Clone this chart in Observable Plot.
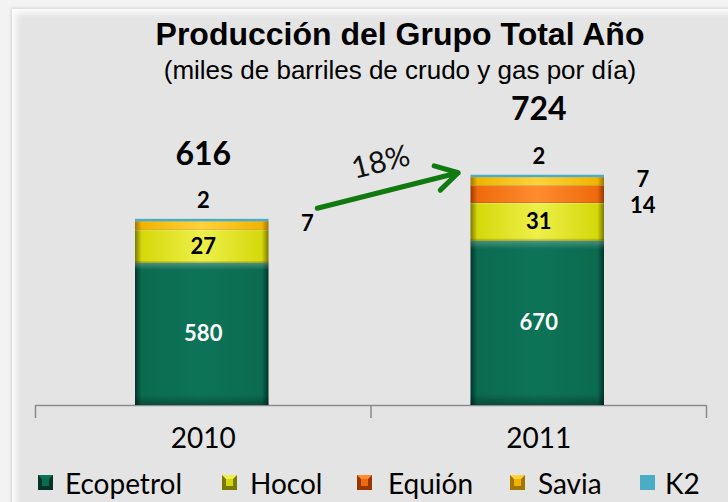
<!DOCTYPE html>
<html>
<head>
<meta charset="utf-8">
<script src="https://cdn.jsdelivr.net/npm/d3@7"></script>
<script src="https://cdn.jsdelivr.net/npm/@observablehq/plot@0.6"></script>
<style>
  html, body { margin: 0; padding: 0; background: #f3f3f3; }
  #wrap { position: relative; width: 728px; height: 502px; overflow: hidden; }
  #panel { position: absolute; left: 12px; top: 9px; width: 730px; height: 500px; background: #e4e4e4;
           box-shadow: inset 4px 4px 7px rgba(255,255,255,0.95), -1px -1px 3px rgba(0,0,0,0.13); }
  #chart { position: absolute; left: 0; top: 0; }
  .ttl { position: absolute; left: 0; width: 800px; text-align: center; white-space: nowrap;
         font-family: "Liberation Sans", Arial, sans-serif; color: #000; z-index: 2; }
  #title { top: 18px; font-size: 32px; line-height: 32px; font-weight: bold; }
  #subtitle { top: 57px; font-size: 26px; line-height: 26px; }
  .leg { position: absolute; top: 466px; height: 34px; display: flex; align-items: center;
         font-family: Lato, "Open Sans", sans-serif; font-size: 28px; color: #000; z-index: 2; }
  .sw { position: absolute; top: 475px; width: 15px; height: 15px; box-sizing: border-box; border: 4px solid; z-index: 2; }
</style>
</head>
<body>
<div id="wrap">
  <div id="panel"></div>
  <div id="chart"></div>
  <div class="ttl" id="title"></div>
  <div class="ttl" id="subtitle"></div>
</div>
<script>
// ---------- data ----------
const chartTitle = "Producción del Grupo Total Año";
const chartSubtitle = "(miles de barriles de crudo y gas por día)";
const years = ["2010", "2011"];
const seriesNames = ["Ecopetrol", "Hocol", "Equión", "Savia", "K2"];
const ecopetrol = [580, 670];
const hocol = [27, 31];
const equion = [0, 14];
const savia = [7, 7];
const k2 = [2, 2];
const seriesValues = [ecopetrol, hocol, equion, savia, k2];

// The source chart draws the Ecopetrol segment at one fifth of the scale used
// for the smaller companies (labels still show the real values).
const ECOPETROL_DRAW_FACTOR = 1 / 5;

// ---------- styles ----------
const palette = {
  Ecopetrol: {base: "#0b6b4f", dark: "#02342a", light: "#0d7357"},
  Hocol:     {base: "#d5d80a", dark: "#7a7a00", light: "#eef04a"},
  "Equión":  {base: "#ef6a0c", dark: "#983800", light: "#ff8c2e"},
  Savia:     {base: "#f0b400", dark: "#a27400", light: "#ffd23a"},
  K2:        {base: "#4bacc6", dark: "#4bacc6", light: "#4bacc6"}
};

// ---------- derived table ----------
const rows = years.flatMap((year, i) => seriesNames.map((s, j) => ({
  year, xi: i, series: s, value: seriesValues[j][i],
  display: s === "Ecopetrol" ? seriesValues[j][i] * ECOPETROL_DRAW_FACTOR : seriesValues[j][i]
})));
const totals = years.map((y, i) => d3.sum(seriesValues, v => v[i]));
const displayTops = years.map((y, i) => d3.sum(rows.filter(r => r.xi === i), r => r.display));
const growth = Math.round((totals[1] / totals[0] - 1) * 100) + "%";

document.getElementById("title").textContent = chartTitle;
document.getElementById("subtitle").textContent = chartSubtitle;

const stackOpts = {z: "series", order: seriesNames};
const arrowData = [{x1: 0.84, y1: displayTops[0] + 9, x2: 1.26, y2: displayTops[1] + 2}];

const chart = Plot.plot({
  width: 728,
  height: 502,
  marginLeft: 35,
  marginRight: 22,
  marginTop: 160,
  marginBottom: 97,
  x: {type: "linear", domain: [0, years.length]},
  y: {domain: [0, 200], axis: null},
  color: {type: "ordinal", domain: seriesNames, range: seriesNames.map((s, i) => `url(#grad${i})`)},
  style: {background: "transparent", fontFamily: "Lato, sans-serif", overflow: "visible"},
  marks: [
    Plot.ruleY([0], {stroke: "#8a8a8a", strokeWidth: 1.5}),
    Plot.axisX({ticks: d3.range(years.length + 1), tickSize: 13, tickFormat: () => "", stroke: "#8a8a8a", strokeWidth: 1.5}),
    Plot.text(years, {x: (d, i) => i + 0.5, y: 0, dy: 34, text: d => d, fontSize: 28, fill: "#000", fontFamily: "Lato"}),
    Plot.rectY(rows, {x1: d => d.xi, x2: d => d.xi + 1, y: "display", ...stackOpts, fill: "series", insetLeft: 100, insetRight: 102}),
    Plot.rectY(rows, {x1: d => d.xi, x2: d => d.xi + 1, y: "display", ...stackOpts, fill: "url(#vshade)", insetLeft: 100, insetRight: 102}),
    // values inside segments
    Plot.text(rows, Plot.stackY({x: d => d.xi + 0.5, y: "display", ...stackOpts,
      text: d => d.series === "Ecopetrol" ? String(d.value) : null,
      fill: "white", fontWeight: "bold", fontSize: 22, fontFamily: "Lato"})),
    Plot.text(rows, Plot.stackY({x: d => d.xi + 0.5, y: "display", ...stackOpts,
      text: d => d.series === "Hocol" ? String(d.value) : null,
      fill: "black", fontWeight: "bold", fontSize: 22, fontFamily: "Lato"})),
    // K2 above the bar
    Plot.text(rows, Plot.stackY2({x: d => d.xi + 0.5, y: "display", ...stackOpts,
      text: d => d.series === "K2" ? String(d.value) : null,
      dy: -18, fill: "black", fontWeight: "bold", fontSize: 22, fontFamily: "Lato"})),
    // Savia and Equión to the right
    Plot.text(rows, Plot.stackY({x: d => d.xi + 0.5, y: "display", ...stackOpts,
      text: d => d.series === "Savia" && d.value > 0 ? String(d.value) : null,
      dx: 104, dy: -2, fill: "black", fontWeight: "bold", fontSize: 22, fontFamily: "Lato"})),
    Plot.text(rows, Plot.stackY({x: d => d.xi + 0.5, y: "display", ...stackOpts,
      text: d => d.series === "Equión" && d.value > 0 ? String(d.value) : null,
      dx: 104, dy: 11, fill: "black", fontWeight: "bold", fontSize: 22, fontFamily: "Lato"})),
    // totals
    Plot.text(years, {x: (d, i) => i + 0.5, y: (d, i) => displayTops[i], text: (d, i) => String(totals[i]),
      dy: -65, fill: "black", fontWeight: "bold", fontSize: 32, fontFamily: "Lato"}),
    // growth arrow
    Plot.arrow(arrowData, {x1: "x1", y1: "y1", x2: "x2", y2: "y2", stroke: "#107a10", strokeWidth: 5, headLength: 7.5}),
    Plot.text(arrowData, {x: d => (d.x1 + d.x2) / 2, y: d => (d.y1 + d.y2) / 2, text: () => growth,
      dx: -7, dy: -28, rotate: -14, fontSize: 30, fill: "#111", fontFamily: "Lato"})
  ]
});

// gradients that imitate the bevelled bars
const defs = d3.select(chart).insert("defs", ":first-child");
seriesNames.forEach((s, i) => {
  const c = palette[s];
  const g = defs.append("linearGradient").attr("id", `grad${i}`)
    .attr("x1", 0).attr("x2", 1).attr("y1", 0).attr("y2", 0);
  [[0, c.dark], [0.05, c.base], [0.5, c.light], [0.95, c.base], [1, c.dark]].forEach(([o, col]) =>
    g.append("stop").attr("offset", o).attr("stop-color", col));
});
const vg = defs.append("linearGradient").attr("id", "vshade")
  .attr("x1", 0).attr("x2", 0).attr("y1", 0).attr("y2", 1);
[[0, "rgba(255,255,255,0.25)"], [0.05, "rgba(255,255,255,0)"], [0.93, "rgba(0,0,0,0)"], [1, "rgba(0,0,0,0.3)"]]
  .forEach(([o, col]) => vg.append("stop").attr("offset", o).attr("stop-color", col));

document.getElementById("chart").appendChild(chart);

// legend
const legendPos = [[38, 65], [222, 250], [357, 388], [510, 538], [640, 665]];
const wrap = document.getElementById("wrap");
seriesNames.forEach((s, i) => {
  const c = palette[s];
  const sw = document.createElement("div");
  sw.className = "sw";
  sw.style.left = legendPos[i][0] + "px";
  sw.style.background = c.base;
  sw.style.borderColor = s === "K2" ? c.base : `${c.light} ${c.dark} ${c.dark} ${c.dark}`;
  wrap.appendChild(sw);
  const t = document.createElement("div");
  t.className = "leg";
  t.style.left = legendPos[i][1] + "px";
  t.textContent = s;
  wrap.appendChild(t);
});
</script>
</body>
</html>
